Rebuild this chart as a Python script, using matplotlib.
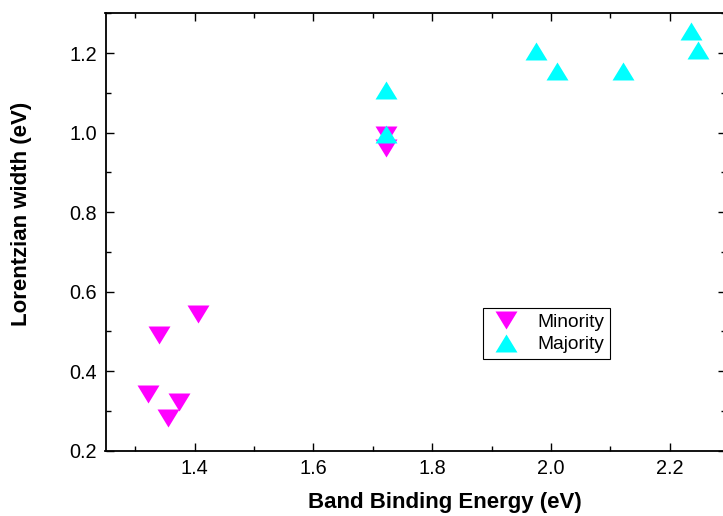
import matplotlib
matplotlib.use("Agg")
import matplotlib.pyplot as plt
from matplotlib.ticker import MultipleLocator

plt.rcParams['font.family'] = ['Liberation Sans', 'DejaVu Sans']

# Data
minority_x = [1.340, 1.405, 1.322, 1.374, 1.356, 1.723, 1.723]
minority_y = [0.49, 0.545, 0.343, 0.322, 0.282, 0.994, 0.961]
majority_x = [1.723, 1.723, 1.975, 2.010, 2.122, 2.235, 2.247]
majority_y = [1.107, 0.998, 1.206, 1.156, 1.156, 1.257, 1.207]
labels = ["Minority", "Majority"]
xlabel = "Band Binding Energy (eV)"
ylabel = "Lorentzian width (eV)"

W, H = 723, 516
fig = plt.figure(figsize=(W / 100, H / 100), dpi=100)
ax = fig.add_axes([105.5 / W, 1 - 450.7 / H, 620.7 / W, 437.2 / H])

up = [(-1, -0.82), (1, -0.82), (0, 0.82)]
down = [(-1, 0.82), (1, 0.82), (0, -0.82)]
ms = 15.8

ax.plot(minority_x, minority_y, linestyle='none', marker=down, ms=ms,
        color='#FF00FF', markeredgewidth=0, label=labels[0], zorder=3)
ax.plot(majority_x, majority_y, linestyle='none', marker=up, ms=ms,
        color='#00FFFF', markeredgewidth=0, label=labels[1], zorder=4)

ax.set_xlim(1.25, 2.295)
ax.set_ylim(0.2, 1.3)
ax.xaxis.set_minor_locator(MultipleLocator(0.1))
ax.yaxis.set_minor_locator(MultipleLocator(0.1))
ax.set_xticks([1.4, 1.6, 1.8, 2.0, 2.2])
ax.set_xticklabels(["1.4", "1.6", "1.8", "2.0", "2.2"])
ax.set_yticks([0.2, 0.4, 0.6, 0.8, 1.0, 1.2])
ax.set_yticklabels(["0.2", "0.4", "0.6", "0.8", "1.0", "1.2"])

ax.tick_params(which='both', direction='in', top=True, right=True,
               width=1.0, labelsize=14.3, pad=6)
ax.tick_params(which='major', length=6)
ax.tick_params(which='minor', length=3.5)
for s in ax.spines.values():
    s.set_linewidth(1.3)

ax.set_xlabel(xlabel, fontsize=16, fontweight='bold')
ax.set_ylabel(ylabel, fontsize=16, fontweight='bold')
ax.xaxis.set_label_coords(0.5467, -0.0956)
ax.yaxis.set_label_coords(-0.1177, 0.5425)

leg = ax.legend(loc='upper left', bbox_to_anchor=(483 / W, 1 - 308 / H),
                bbox_transform=fig.transFigure, borderaxespad=0,
                numpoints=1, fontsize=13.8, frameon=True, fancybox=False,
                framealpha=1, edgecolor='black', handletextpad=0.75,
                labelspacing=0.25, borderpad=0.3, handlelength=1.8)
leg.get_frame().set_linewidth(0.8)

fig.savefig("out.png", dpi=100)
